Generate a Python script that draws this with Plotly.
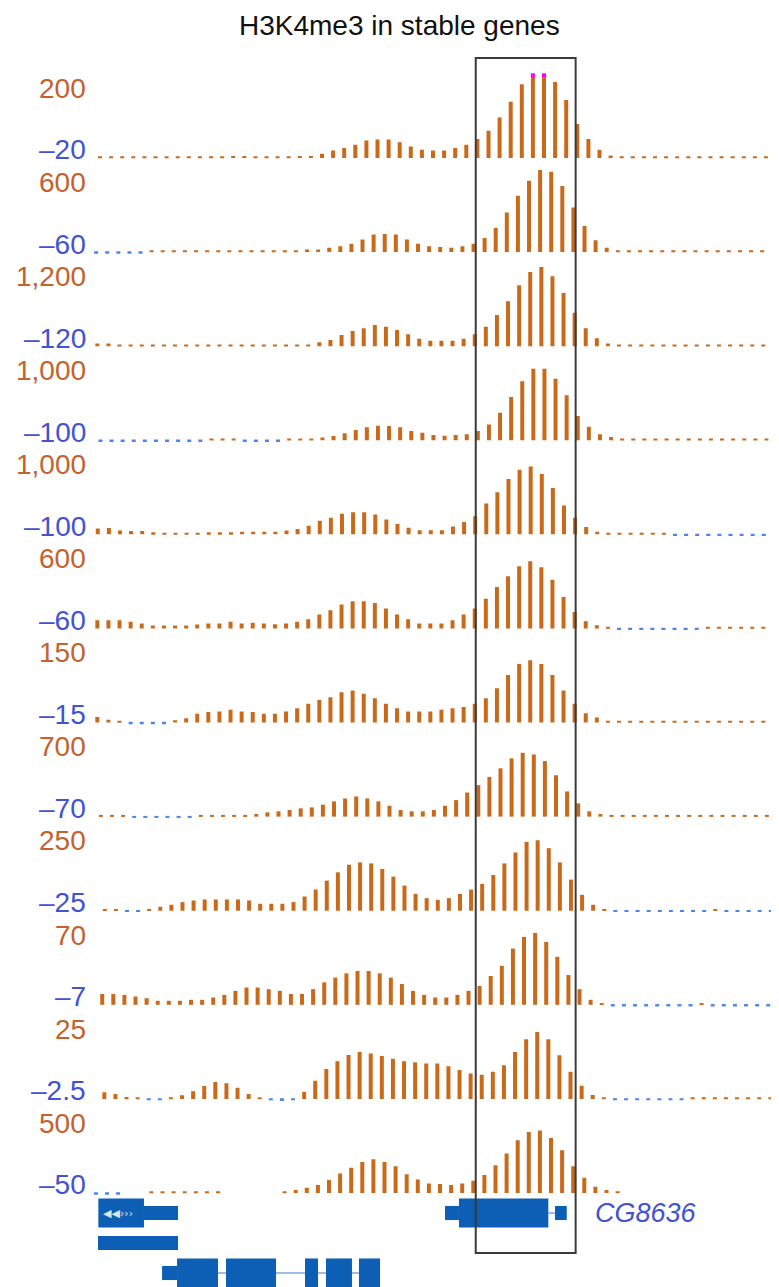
import plotly.graph_objects as go

# reference canvas is 779x1287; the page body adds an 8px margin, so the figure is
# made 8px smaller and every reference pixel position is shifted by OFF.
OFF = 8
W, H = 779 - OFF, 1287 - OFF

title_text = "H3K4me3 in stable genes"
top_labels = ["200", "600", "1,200", "1,000", "1,000", "600", "150", "700", "250", "70", "25", "500"]
bottom_labels = ["–20", "–60", "–120", "–100", "–100", "–60", "–15", "–70", "–25", "–7", "–2.5", "–50"]
view_max = [200, 600, 1200, 1000, 1000, 600, 150, 700, 250, 70, 25, 500]
view_min = [-20, -60, -120, -100, -100, -60, -15, -70, -25, -7, -2.5, -50]
bins = list(range(62))

t1 = [4] * 12 + [5, 5] + [4] * 4 + [5, 5] + [
    10, 18, 24, 32, 42, 45, 45, 38, 28, 20, 18, 18, 24, 32, 46, 66, 98, 136, 178, 215,
    212, 184, 140, 82, 46, 20, 6] + [4] * 15
t2 = [-12] * 5 + [12] * 14 + [
    19, 19, 31, 43, 60, 91, 127, 132, 127, 91, 60, 43, 36, 31, 43, 60, 103, 175, 288, 408,
    518, 595, 583, 480, 324, 190, 86, 31] + [12] * 15
t3 = [38, 38] + [24] * 3 + [14] * 6 + [24] * 5 + [14] * 3 + [24] + [
    58, 91, 163, 221, 259, 307, 283, 235, 173, 106, 77, 77, 77, 106, 173, 283, 451, 653, 883, 1075,
    1147, 1013, 773, 485, 259, 115, 38] + [14] * 15
t4 = [-20] * 10 + [20] * 3 + [-20] * 4 + [20, 20] + [
    20, 32, 52, 84, 124, 156, 176, 172, 156, 112, 92, 64, 56, 64, 72, 112, 192, 332, 524, 712,
    864, 864, 744, 544, 292, 164, 72, 40] + [20] * 15
t5 = [72, 76, 48, 40, 40, 24] + [20] * 4 + [24] * 3 + [32] * 4 + [
    48, 64, 104, 164, 200, 248, 268, 268, 240, 180, 124, 80, 50, 50, 50, 96, 148, 220, 372, 508,
    668, 780, 820, 730, 560, 350, 200, 88, 32, 20] + [20] * 5 + [-20] * 10
t6 = [60, 60, 60, 48, 36] + [22] * 4 + [
    29, 36, 36, 48, 36, 41, 36, 31, 36, 48, 67, 101, 132, 173, 197, 197, 185, 144, 101, 67,
    36, 36, 36, 60, 101, 144, 216, 300, 379, 451, 487, 444, 353, 228, 120, 53, 24, 12] + [-12] * 8 + [12] * 7
t7 = [10, 5, 3] + [-3] * 4 + [
    4, 8, 16, 19, 20, 23, 20, 19, 16, 16, 20, 26, 34, 41, 46, 55, 58, 52, 44, 34,
    26, 20, 20, 20, 23, 26, 28, 34, 44, 62, 86, 106, 113, 106, 86, 58, 34, 17, 9] + [3] * 16
t8 = [14, 8, 8, -8, -8, -11, -8, -8, -8] + [8] * 5 + [
    22, 36, 45, 56, 70, 78, 101, 129, 154, 171, 154, 129, 92, 56, 45, 45, 56, 92, 140, 204,
    266, 336, 409, 493, 540, 526, 470, 350, 213, 112, 45, 22] + [8] * 16
t9 = [5, 3, -3, -3, 3, 12, 18, 26, 31, 34, 34, 34, 34, 31, 21, 21, 21, 26, 43, 64,
      91, 116, 139, 146, 143, 126, 103, 76, 51, 38, 33, 38, 51, 64, 81, 108, 143, 176, 208, 213,
      189, 146, 94, 48, 18, 5] + [-3] * 9 + [3] + [-3] * 6
t10 = [9.2, 9.2, 8.4, 7, 5.6, 3.4, 3.4, 3.4, 4.2, 4.2, 6.2, 8.4, 11.8, 14.6, 14.6, 13.2, 11.8, 9.2, 9.2, 13.2,
       19, 23, 26.6, 28.6, 28.6, 26.6, 23, 17.6, 11.8, 8.4, 6.2, 6.2, 8.4, 11.8, 16, 24.4, 33, 47.6, 57.4, 60.8,
       53.2, 40.6, 25.2, 13.2, 4.2, 1.4] + [-1.4] * 8 + [1.4] + [-1.4] * 7
t11 = [2.0, 1.5, 0.6, 0.4, -0.4, -0.4, 0.4, 1.1, 2.3, 3.9, 5.1, 4.7, 3.4, 1.5, 0.5, -0.4, -0.6, -0.4, 2.1, 5.5,
       9.0, 11.4, 13.3, 14.2, 13.7, 13.0, 12.1, 11.4, 11.1, 10.7, 10.7, 9.9, 8.7, 7.7, 7.3, 8.2, 10.2, 14.2, 18.0, 20.2,
       18.0, 13.2, 8.2, 4.0, 1.2, 0.5] + [-0.4] * 7 + [0.4] * 9
t12 = [-10, -10, -10, None, None] + [10] * 7 + [None] * 5 + [
    8, 18, 32, 48, 78, 118, 152, 188, 204, 188, 162, 114, 82, 58, 54, 48, 58, 74, 108, 168,
    238, 318, 368, 378, 332, 258, 162, 92, 38, 18, 10] + [None] * 14

tracks = [t1, t2, t3, t4, t5, t6, t7, t8, t9, t10, t11, t12]
track_shift = [0, -0.35, -0.24, 0.04, -0.2, -0.24, -0.24, 0.08, 0.43, 0.2, 0.39, -0.37]

# gene models (bin units)
exon_start = [-0.15, 3.96, -0.18, 5.59, 6.94, 11.35, 18.47, 20.36, 23.33, 31.08, 32.34, 40.99]
exon_end = [3.96, 7.03, 7.03, 6.94, 10.63, 15.86, 19.64, 22.70, 25.23, 32.34, 40.39, 42.05]
exon_row = [0, 0, 1, 2, 2, 2, 2, 2, 2, 0, 0, 0]
exon_thick = [True, False, False, False, True, True, True, True, True, False, True, False]
intron_start = [10.63, 15.86, 19.64, 22.70, 40.39]
intron_end = [11.35, 18.47, 20.36, 23.33, 40.99]
intron_row = [2, 2, 2, 2, 0]
gene_name = "CG8636"
gene_name_pos = (44.4, 0)
highlight = (33.85, 42.85)

ORANGE = "#C96A1B"
BLUE_BAR = "#4A86E8"
ORANGE_TXT = "#C4622D"
BLUE_TXT = "#4352D4"
GENE = "#0D5FB5"

STEP = 11.1
X0PX = 100.0
BASE0 = 158.0
PITCH = 94.09
TRACK_H = 91.0


def py(p):
    """reference pixel row -> paper y"""
    return 1 - (p - OFF) / H


def px(p):
    """reference pixel column -> paper x"""
    return (p - OFF) / W


fig = go.Figure()
annotations = []
layout_axes = {}

for k, vals in enumerate(tracks):
    vmax, vmin = view_max[k], view_min[k]
    z = BASE0 + PITCH * k
    top = z - TRACK_H * vmax / (vmax - vmin)
    bot = top + TRACK_H
    yname = "y" if k == 0 else f"y{k + 1}"
    axkey = "yaxis" if k == 0 else f"yaxis{k + 1}"
    layout_axes[axkey] = dict(domain=[py(bot), py(top)], range=[vmin, vmax],
                              visible=False, fixedrange=True)
    xs_p, ys_p, xs_n, ys_n, xs_c = [], [], [], [], []
    for b, v in zip(bins, vals):
        if v is None:
            continue
        if v >= 0:
            xs_p.append(b + track_shift[k]); ys_p.append(v)
            if v > vmax:
                xs_c.append(b + track_shift[k])
        else:
            xs_n.append(b + track_shift[k]); ys_n.append(v)
    fig.add_trace(go.Bar(x=xs_p, y=ys_p, width=0.36, marker=dict(color=ORANGE, line=dict(width=0)),
                         xaxis="x", yaxis=yname, showlegend=False, hoverinfo="skip"))
    if xs_n:
        fig.add_trace(go.Bar(x=xs_n, y=ys_n, width=0.36, marker=dict(color=BLUE_BAR, line=dict(width=0)),
                             xaxis="x", yaxis=yname, showlegend=False, hoverinfo="skip"))
    if xs_c:
        fig.add_trace(go.Scatter(x=xs_c, y=[vmax] * len(xs_c), mode="markers",
                                 marker=dict(symbol="square", size=4, color="#FF00FF", line=dict(width=0)),
                                 cliponaxis=False, xaxis="x", yaxis=yname, showlegend=False, hoverinfo="skip"))
    annotations.append(dict(text=top_labels[k], xref="paper", yref="paper", x=px(88),
                            y=py(top + 13), xanchor="right", yanchor="middle", showarrow=False,
                            font=dict(family="Liberation Sans, Arial", size=28, color=ORANGE_TXT)))
    annotations.append(dict(text=bottom_labels[k], xref="paper", yref="paper", x=px(88),
                            y=py(z - 8), xanchor="right", yanchor="middle", showarrow=False,
                            font=dict(family="Liberation Sans, Arial", size=28, color=BLUE_TXT)))

# gene track axis (row units)
GENE_TOP = 1195.0
ROW0 = 1213.0
ROW_PITCH = 30.0
gk = len(tracks) + 1
layout_axes[f"yaxis{gk}"] = dict(domain=[0, py(GENE_TOP)],
                                 range=[(1287 - ROW0) / ROW_PITCH, (GENE_TOP - ROW0) / ROW_PITCH],
                                 visible=False, fixedrange=True)
gy = f"y{gk}"

shapes = []
for s, e, r in zip(intron_start, intron_end, intron_row):
    shapes.append(dict(type="line", xref="x", yref=gy, x0=s, x1=e, y0=r, y1=r,
                       line=dict(color="#7FA6DA", width=1.5), layer="above"))
for s, e, r, thick in zip(exon_start, exon_end, exon_row, exon_thick):
    h = 0.97 if thick else 0.47
    shapes.append(dict(type="rect", xref="x", yref=gy, x0=s, x1=e, y0=r - h / 2, y1=r + h / 2,
                       fillcolor=GENE, line=dict(width=0), layer="above"))

# highlight box
shapes.append(dict(type="rect", xref="x", yref="paper", x0=highlight[0], x1=highlight[1],
                   y0=py(1253), y1=py(58), line=dict(color="#3A3A3A", width=2),
                   fillcolor="rgba(0,0,0,0)", layer="above"))

annotations.append(dict(text=gene_name, xref="x", yref=gy, x=gene_name_pos[0], y=gene_name_pos[1],
                        xanchor="left", yanchor="middle", showarrow=False,
                        font=dict(family="Liberation Sans, Arial", size=27, color=BLUE_TXT, style="italic")))
annotations.append(dict(text="◀◀›››", xref="x", yref=gy, x=0.1, y=0, xanchor="left", yanchor="middle",
                        showarrow=False, font=dict(family="DejaVu Sans", size=11, color="rgba(255,255,255,0.85)")))
annotations.append(dict(text=title_text, xref="paper", yref="paper", x=px(399), y=py(25),
                        xanchor="center", yanchor="middle", showarrow=False,
                        font=dict(family="Liberation Sans, Arial", size=28, color="#111111")))

fig.update_layout(
    width=W, height=H,
    margin=dict(l=0, r=0, t=0, b=0),
    paper_bgcolor="white", plot_bgcolor="white",
    barmode="overlay",
    xaxis=dict(range=[(OFF - X0PX) / STEP, (OFF + W - X0PX) / STEP], visible=False, fixedrange=True),
    shapes=shapes, annotations=annotations,
    showlegend=False,
    **layout_axes,
)

fig.write_html("out.html")
